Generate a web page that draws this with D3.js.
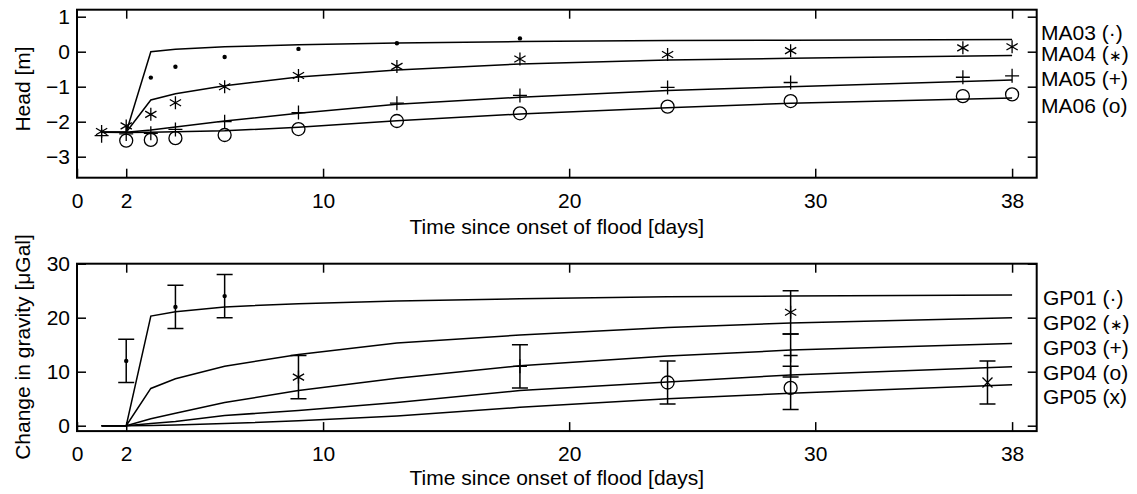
<!DOCTYPE html>
<html>
<head>
<meta charset="utf-8">
<script src="https://cdn.jsdelivr.net/npm/d3@7"></script>
<style>
  body { margin: 0; background: #fff; }
  svg text { font-family: "Liberation Sans", Arial, Helvetica, sans-serif; font-size: 21px; fill: #000; }
  svg text tspan.small { font-size: 15px; }
</style>
</head>
<body>
<svg id="chart" width="1137" height="494"></svg>
<script>
// model time steps (days)
const modelTimes = [1, 2, 3, 4, 6, 9, 13, 18, 24, 29, 38];

// head model curves [m]
const ma03Model = [-2.3, -2.3, 0.0, 0.07, 0.14, 0.2, 0.25, 0.29, 0.32, 0.33, 0.35];
const ma04Model = [-2.3, -2.3, -1.38, -1.2, -0.97, -0.72, -0.52, -0.35, -0.24, -0.19, -0.11];
const ma05Model = [-2.3, -2.3, -2.24, -2.15, -1.98, -1.76, -1.5, -1.3, -1.11, -1.0, -0.81];
const ma06Model = [-2.3, -2.31, -2.3, -2.29, -2.26, -2.16, -1.97, -1.78, -1.6, -1.47, -1.32];

// head observations
const ma03Times = [3, 4, 6, 9, 13, 18];
const ma03Obs = [-0.74, -0.43, -0.15, 0.08, 0.24, 0.38];
const ma04Times = [1, 2, 3, 4, 6, 9, 13, 18, 24, 29, 36, 38];
const ma04Obs = [-2.28, -2.12, -1.79, -1.46, -1.0, -0.68, -0.42, -0.21, -0.08, 0.03, 0.11, 0.14];
const ma05Times = [1, 2, 3, 4, 6, 9, 13, 18, 24, 29, 36, 38];
const ma05Obs = [-2.4, -2.35, -2.33, -2.22, -2.0, -1.74, -1.47, -1.25, -1.02, -0.88, -0.73, -0.69];
const ma06Times = [2, 3, 4, 6, 9, 13, 18, 24, 29, 36, 38];
const ma06Obs = [-2.54, -2.52, -2.47, -2.38, -2.21, -1.98, -1.76, -1.57, -1.41, -1.27, -1.22];

// gravity model curves [uGal]
const gp01Model = [0, 0, 20.3, 21.1, 22.0, 22.6, 23.1, 23.5, 23.9, 24.0, 24.2];
const gp02Model = [0, 0, 6.9, 8.7, 11.0, 13.2, 15.3, 16.8, 18.2, 19.0, 20.0];
const gp03Model = [0, 0, 1.3, 2.3, 4.3, 6.5, 8.8, 11.1, 12.9, 14.0, 15.2];
const gp04Model = [0, 0, 0.4, 0.8, 1.9, 2.8, 4.3, 6.5, 8.1, 9.4, 10.9];
const gp05Model = [0, 0, 0.05, 0.15, 0.4, 0.9, 1.8, 3.4, 5.0, 6.0, 7.6];

// gravity observations, error +-4 uGal
const gp01Times = [2, 4, 6];
const gp01Obs = [12, 22, 24];
const gp02Times = [9, 29];
const gp02Obs = [9, 21];
const gp03Times = [18, 29];
const gp03Obs = [11, 13];
const gp04Times = [24, 29];
const gp04Obs = [8, 7];
const gp05Times = [37];
const gp05Obs = [8];
const gravError = 4;

const xTicks = [0, 2, 10, 20, 30, 38];
const headTicks = [1, 0, -1, -2, -3];
const gravTicks = [0, 10, 20, 30];
const headLegend = [["MA03 (", "\u00b7"], ["MA04 (", "\u2217"], ["MA05 (", "+"], ["MA06 (", "o"]];
const gravLegend = [["GP01 (", "\u00b7"], ["GP02 (", "\u2217"], ["GP03 (", "+"], ["GP04 (", "o"], ["GP05 (", "x"]];

const svg = d3.select("#chart");

const x = d3.scaleLinear().domain([0, 39]).range([77, 1036.7]);
const yHead = d3.scaleLinear().domain([-3.6, 1.2]).range([177.7, 9.7]);
const yGrav = d3.scaleLinear().domain([-1, 30]).range([431.1, 263.7]);

function markerPath(type, cx, cy) {
    if (type === "plus") {
        const s = 7;
        return `M${cx - s},${cy}H${cx + s}M${cx},${cy - s}V${cy + s}`;
    }
    if (type === "cross") {
        const s = 5;
        return `M${cx - s},${cy - s}L${cx + s},${cy + s}M${cx - s},${cy + s}L${cx + s},${cy - s}`;
    }
    // star: vertical arm plus two slanted ones
    const s = 6.5, a = s * Math.cos(Math.PI / 6), b = s * 0.5;
    return `M${cx},${cy - s}V${cy + s}M${cx - a},${cy - b}L${cx + a},${cy + b}M${cx - a},${cy + b}L${cx + a},${cy - b}`;
}

function drawMarkers(g, y, times, values, type) {
    times.forEach((t, i) => {
        const cx = x(t), cy = y(values[i]);
        if (type === "dot") {
            g.append("circle").attr("cx", cx).attr("cy", cy).attr("r", 2.2).attr("fill", "#000");
        } else if (type === "circle") {
            g.append("circle").attr("cx", cx).attr("cy", cy).attr("r", 6.5)
                .attr("fill", "none").attr("stroke", "#000").attr("stroke-width", 1.3);
        } else {
            g.append("path").attr("d", markerPath(type, cx, cy))
                .attr("fill", "none").attr("stroke", "#000").attr("stroke-width", 1.3);
        }
    });
}

function drawPanel(y, yTicks, models, obs, legend, legendY, legendX, xLabelY, yLabel, yLabelPos, errorBars) {
    const g = svg.append("g");
    const [y0, y1] = y.range();

    // model lines
    const line = d3.line().x(d => x(d[0])).y(d => y(d[1]));
    models.forEach(m => {
        g.append("path")
            .datum(modelTimes.map((t, i) => [t, m[i]]))
            .attr("d", line)
            .attr("fill", "none")
            .attr("stroke", "#000")
            .attr("stroke-width", 1.5);
    });

    // error bars
    if (errorBars) {
        obs.forEach(o => {
            o.times.forEach((t, i) => {
                const cx = x(t), lo = y(o.values[i] - gravError), hi = y(o.values[i] + gravError);
                g.append("path")
                    .attr("d", `M${cx},${lo}V${hi}M${cx - 8},${lo}H${cx + 8}M${cx - 8},${hi}H${cx + 8}`)
                    .attr("fill", "none").attr("stroke", "#000").attr("stroke-width", 1.5);
            });
        });
    }

    // observations
    obs.forEach(o => drawMarkers(g, y, o.times, o.values, o.type));

    // axes, ticks pointing inward
    const bottom = g.append("g").attr("transform", `translate(0,${y0})`)
        .call(d3.axisBottom(x).tickValues(xTicks).tickSize(-9).tickSizeOuter(0).tickPadding(15).tickFormat(d3.format("d")));
    const top = g.append("g").attr("transform", `translate(0,${y1})`)
        .call(d3.axisTop(x).tickValues(xTicks.slice(1)).tickSize(-9).tickSizeOuter(0).tickFormat(""));
    const left = g.append("g").attr("transform", `translate(${x.range()[0]},0)`)
        .call(d3.axisLeft(y).tickValues(yTicks).tickSize(-9).tickSizeOuter(0).tickPadding(7).tickFormat(d3.format("d")));
    const right = g.append("g").attr("transform", `translate(${x.range()[1]},0)`)
        .call(d3.axisRight(y).tickValues(yTicks).tickSize(-9).tickSizeOuter(0).tickFormat(""));
    [bottom, top, left, right].forEach(a => {
        a.select(".domain").remove();
        a.selectAll(".tick line").attr("stroke-width", 1.5);
        a.attr("font-size", null).attr("font-family", null);
    });

    // frame
    g.append("rect")
        .attr("x", x.range()[0]).attr("y", y1)
        .attr("width", x.range()[1] - x.range()[0]).attr("height", y0 - y1)
        .attr("fill", "none").attr("stroke", "#000").attr("stroke-width", 2);

    // labels
    g.append("text")
        .attr("x", (x.range()[0] + x.range()[1]) / 2)
        .attr("y", xLabelY)
        .attr("text-anchor", "middle")
        .text("Time since onset of flood [days]");
    g.append("text")
        .attr("transform", `translate(${yLabelPos[0]},${yLabelPos[1]}) rotate(-90)`)
        .attr("text-anchor", "middle")
        .attr("dominant-baseline", "central")
        .text(yLabel);

    // legend to the right
    const items = g.selectAll(".legend")
        .data(legend)
        .enter().append("text")
        .attr("class", "legend")
        .attr("x", legendX)
        .attr("y", (d, i) => legendY[i] + 7);
    items.append("tspan").text(d => d[0]);
    items.append("tspan")
        .attr("class", d => d[1] === "\u2217" ? "small" : null)
        .text(d => d[1]);
    items.append("tspan").text(")");
}

drawPanel(
    yHead, headTicks,
    [ma03Model, ma04Model, ma05Model, ma06Model],
    [
        { times: ma03Times, values: ma03Obs, type: "dot" },
        { times: ma04Times, values: ma04Obs, type: "star" },
        { times: ma05Times, values: ma05Obs, type: "plus" },
        { times: ma06Times, values: ma06Obs, type: "circle" }
    ],
    headLegend, [33, 54, 79, 106], 1041, 234, "Head [m]", [22, 89], false
);

drawPanel(
    yGrav, gravTicks,
    [gp01Model, gp02Model, gp03Model, gp04Model, gp05Model],
    [
        { times: gp01Times, values: gp01Obs, type: "dot" },
        { times: gp02Times, values: gp02Obs, type: "star" },
        { times: gp03Times, values: gp03Obs, type: "plus" },
        { times: gp04Times, values: gp04Obs, type: "circle" },
        { times: gp05Times, values: gp05Obs, type: "cross" }
    ],
    gravLegend, [298, 323, 348, 373, 397], 1043, 485, "Change in gravity [\u03bcGal]", [22, 347], true
);
</script>
</body>
</html>
